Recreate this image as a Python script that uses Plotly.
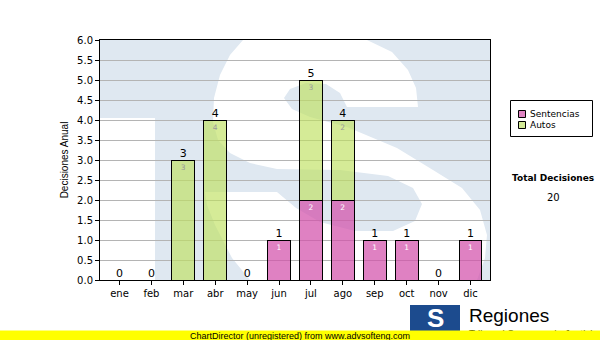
import plotly.graph_objects as go

# ---------------- data ----------------
months = ["ene", "feb", "mar", "abr", "may", "jun", "jul", "ago", "sep", "oct", "nov", "dic"]
sentencias = [0, 0, 0, 0, 0, 1, 2, 2, 1, 1, 0, 1]
autos = [0, 0, 3, 4, 0, 0, 3, 2, 0, 0, 0, 0]
series_names = ["Sentencias", "Autos"]
y_title = "Decisiones Anual"
total_title = "Total Decisiones"
footer_text = "ChartDirector (unregistered) from www.advsofteng.com"
brand_text = "Regiones"
brand_sub = "Tribunal Supremo de Justicia"

totals = [s + a for s, a in zip(sentencias, autos)]
grand_total = sum(totals)

# ---------------- layout geometry (pixels) ----------------
W, H = 600, 340
L, R, T, B = 100, 490, 40, 280


def px(x):
    return (x - L) / (R - L)


def py(y):
    return (B - y) / (B - T)


def path(points):
    return "M " + " L ".join(f"{px(x):.4f},{py(y):.4f}" for x, y in points) + " Z"


WM_BLUE = "#dfe8f1"
s_shape = [(243, 40), (367, 40), (392, 52), (408, 70), (416, 88), (418, 107), (347, 107),
           (340, 93), (326, 84), (306, 83), (290, 89), (284, 98), (292, 109), (310, 117),
           (347, 127), (397, 148), (433, 170), (462, 188), (480, 210), (487, 235),
           (485, 258), (477, 280), (250, 280), (232, 258), (215, 225), (207, 205),
           (205, 192), (277, 192), (296, 208), (320, 222), (355, 231), (393, 231),
           (415, 221), (422, 204), (413, 188), (388, 176), (340, 170), (277, 169),
           (250, 163), (230, 153), (218, 140), (213, 122), (214, 98), (220, 75), (230, 55)]

colors = ["rgba(210,80,170,0.72)", "rgba(190,225,95,0.65)"]
legend_swatch = ["#df84c3", "#d4eb97"]

shapes = [
    dict(type="rect", xref="paper", yref="paper", x0=0, x1=1, y0=0, y1=1,
         fillcolor=WM_BLUE, line=dict(width=0), layer="below"),
    dict(type="rect", xref="paper", yref="paper", x0=px(100), x1=px(155), y0=py(280), y1=py(118),
         fillcolor="white", line=dict(width=0), layer="below"),
    dict(type="path", xref="paper", yref="paper", path=path(s_shape),
         fillcolor="white", line=dict(width=0), layer="below"),
    # logo block
    dict(type="rect", xref="paper", yref="paper", x0=px(410), x1=px(460), y0=py(331), y1=py(305),
         fillcolor="#1c4b8e", line=dict(width=0), layer="above"),
    # legend box
    dict(type="rect", xref="paper", yref="paper", x0=px(510.5), x1=px(592.5), y0=py(136.5), y1=py(100.5),
         fillcolor="white", line=dict(color="black", width=1), layer="above"),
]

annotations = []
for i, name in enumerate(series_names):
    yc = 114 + 11 * i
    shapes.append(dict(type="rect", xref="paper", yref="paper",
                       x0=px(518.5), x1=px(525.5), y0=py(yc + 3.5), y1=py(yc - 3.5),
                       fillcolor=legend_swatch[i], line=dict(color="black", width=1), layer="above"))
    annotations.append(dict(xref="paper", yref="paper", x=px(528), y=py(yc), text=name,
                            showarrow=False, xanchor="left", yanchor="middle",
                            font=dict(family="DejaVu Sans", size=9, color="black")))

fig = go.Figure()
fig.add_trace(go.Bar(
    x=months, y=sentencias, name=series_names[0],
    marker=dict(color=colors[0], line=dict(color="black", width=1)),
    text=[str(v) if v else "" for v in sentencias], textposition="inside",
    insidetextanchor="end", textangle=0, constraintext="none",
    textfont=dict(family="DejaVu Sans", size=7.5, color="white"),
    hoverinfo="skip",
))
fig.add_trace(go.Bar(
    x=months, y=autos, name=series_names[1],
    marker=dict(color=colors[1], line=dict(color="black", width=1)),
    text=[str(v) if v else "" for v in autos], textposition="inside",
    insidetextanchor="end", textangle=0, constraintext="none",
    textfont=dict(family="DejaVu Sans", size=7.5, color="#9a9a9a"),
    hoverinfo="skip",
))
fig.add_trace(go.Scatter(
    x=months, y=totals, mode="text", text=[str(t) for t in totals],
    textposition="top center", cliponaxis=False, showlegend=False,
    textfont=dict(family="DejaVu Sans", size=11, color="black"), hoverinfo="skip",
))

annotations += [
    dict(xref="paper", yref="paper", x=px(553), y=py(178), text=f"<b>{total_title}</b>",
         showarrow=False, xanchor="center", yanchor="middle",
         font=dict(family="DejaVu Sans", size=9, color="black")),
    dict(xref="paper", yref="paper", x=px(553), y=py(197), text=str(grand_total),
         showarrow=False, xanchor="center", yanchor="middle",
         font=dict(family="DejaVu Sans", size=10, color="black")),
    dict(xref="paper", yref="paper", x=px(435), y=py(318), text="<b>S</b>",
         showarrow=False, xanchor="center", yanchor="middle",
         font=dict(family="Liberation Sans", size=26, color="white")),
    dict(xref="paper", yref="paper", x=px(467), y=py(315), text=brand_text,
         showarrow=False, xanchor="left", yanchor="middle",
         font=dict(family="Liberation Sans", size=19, color="black")),
    dict(xref="paper", yref="paper", x=px(467), y=py(334), text=brand_sub,
         showarrow=False, xanchor="left", yanchor="middle",
         font=dict(family="Liberation Sans", size=10, color="black")),
    dict(xref="paper", yref="paper", x=px(300), y=py(335.5), text=footer_text,
         showarrow=False, xanchor="center", yanchor="middle", width=600, height=9,
         bgcolor="#ffff00", borderpad=0,
         font=dict(family="Liberation Sans", size=9, color="black")),
]

fig.update_layout(
    width=W, height=H, autosize=False,
    margin=dict(l=L, r=W - R, t=T, b=H - B, pad=0),
    paper_bgcolor="white", plot_bgcolor="white",
    barmode="stack", bargap=0.29,
    showlegend=False,
    shapes=shapes, annotations=annotations,
    font=dict(family="DejaVu Sans", size=10, color="black"),
)
fig.update_yaxes(
    range=[0, 6], dtick=0.5, tick0=0, tickformat=".1f",
    showgrid=True, gridcolor="#b4b4b4", gridwidth=1, zeroline=False,
    showline=True, linecolor="black", linewidth=1, mirror=True,
    ticks="outside", ticklen=4, tickcolor="black",
    tickfont=dict(family="DejaVu Sans", size=10, color="black"),
    title=dict(text=y_title, standoff=6, font=dict(family="Liberation Sans", size=10, color="black")),
)
fig.update_xaxes(
    showgrid=False, zeroline=False,
    showline=True, linecolor="black", linewidth=1, mirror=True,
    ticks="outside", ticklen=4, tickcolor="black",
    tickfont=dict(family="DejaVu Sans", size=10, color="black"),
)

fig.write_html("out.html")
